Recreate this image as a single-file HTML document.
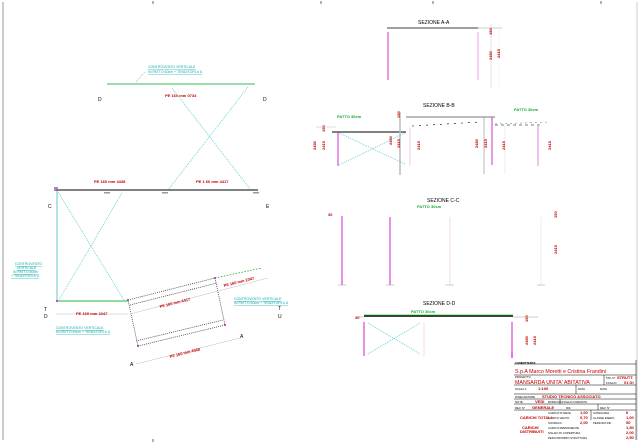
<!DOCTYPE html>
<html><head><meta charset="utf-8"><style>
html,body{margin:0;padding:0;background:#fff;}
svg{display:block;font-family:"Liberation Sans",sans-serif;}
.r{fill:#c00000;font-size:4px;font-weight:bold}
.c{fill:#11aaaa;font-size:3.5px;text-decoration:underline}
.g{fill:#11aa33;font-size:4px;font-weight:bold}
.k{fill:#000;font-size:5px}
.t{fill:#000;font-size:2.8px}
</style></head><body>
<svg width="640" height="444" viewBox="0 0 640 444" xmlns="http://www.w3.org/2000/svg">
<rect width="640" height="444" fill="#fff"/>
<line x1="3" y1="2" x2="3" y2="440" stroke="#aaa" stroke-width="1.2"/>
<line x1="637" y1="2" x2="637" y2="440" stroke="#ccc" stroke-width="1"/>
<g stroke="#000" stroke-width="0.6"><line x1="153" y1="1" x2="153" y2="4"/><line x1="321" y1="1" x2="321" y2="4"/><line x1="433" y1="1" x2="433" y2="4"/><line x1="601" y1="1" x2="601" y2="4"/><line x1="153" y1="439" x2="153" y2="442"/></g>

<!-- left plan -->
<line x1="107" y1="84" x2="255" y2="84" stroke="#77d488" stroke-width="1.5"/>
<text x="148" y="68" class="c">CONTROVENTO VERTICALE</text>
<text x="148" y="73" class="c">IN PATTO 60cm + TENDITORI A U</text>
<line x1="136" y1="82" x2="145" y2="72" stroke="#333" stroke-width="0.4" stroke-dasharray="1,1"/>
<text x="98" y="101" class="k" font-size="5">D</text><text x="263" y="101" class="k" font-size="5">D</text>
<text x="165" y="97" class="r">PE 160 mm 0734</text>
<g stroke="#55cccc" stroke-width="0.8" stroke-dasharray="1,1">
<line x1="172" y1="88" x2="250" y2="189"/><line x1="248" y1="87" x2="168" y2="190"/>
<line x1="58" y1="192" x2="124" y2="300"/><line x1="122" y1="193" x2="59" y2="300"/>
</g>
<line x1="56" y1="190" x2="258" y2="190" stroke="#000" stroke-width="1"/>
<text x="94" y="183" class="r">PE 160 mm 4438</text>
<text x="196" y="183" class="r">PE 1 60 mm 4417</text>
<text x="48" y="208" class="k">C</text><text x="266" y="208" class="k">E</text>
<g fill="#999"><rect x="104" y="192" width="6" height="1.5"/><rect x="162" y="192" width="6" height="1.5"/><rect x="253" y="192" width="6" height="1.5"/><rect x="54" y="187" width="4" height="4"/></g>
<line x1="57" y1="190" x2="57" y2="301" stroke="#66c8c8" stroke-width="1"/>
<line x1="57" y1="301" x2="128" y2="301" stroke="#22bb33" stroke-width="1"/>
<line x1="56" y1="314" x2="128" y2="314" stroke="#ddd" stroke-width="1"/>
<text x="76" y="315" class="r">PE 160 mm 2347</text>
<text x="15" y="265" class="c">CONTROVENTO</text><text x="17" y="269" class="c">VERTICALE</text>
<text x="13" y="273" class="c">IN PATTO 60cm</text><text x="11" y="277" class="c">+ TENDITORI A U</text>
<text x="56" y="329" class="c">CONTROVENTO VERTICALE</text>
<text x="56" y="333" class="c">IN PATTO 60cm + TENDITORI A U</text>
<text x="44" y="311" class="k">T</text><text x="44" y="318" class="k" font-size="4">D</text>
<!-- rotated rect -->
<g stroke="#444" stroke-width="0.8" stroke-dasharray="1,1" fill="none">
<polygon points="128,300 215,278 225,325 138,346"/>
<line x1="130" y1="305" x2="217" y2="283"/>
<line x1="136" y1="341" x2="223" y2="320"/>
</g>
<line x1="215" y1="278" x2="262" y2="268" stroke="#22aa33" stroke-width="0.8" stroke-dasharray="1.5,1.5"/>
<g stroke="#bbb" stroke-width="0.5"><line x1="130" y1="314" x2="268" y2="278"/><line x1="136" y1="364" x2="240" y2="338"/></g>
<text x="160" y="308" class="r" transform="rotate(-14 160 308)">PE 160 mm 4417</text>
<text x="224" y="287" class="r" transform="rotate(-14 224 287)">PE 160 mm 2347</text>
<text x="170" y="358" class="r" transform="rotate(-14 170 358)">PE 160 mm 4568</text>
<text x="234" y="300" class="c">CONTROVENTO VERTICALE</text>
<text x="234" y="304" class="c">IN PATTO 60cm + TENDITORI A U</text>
<text x="278" y="310" class="k">T</text><text x="278" y="318" class="k" font-size="4">U</text>
<text x="240" y="338" class="k" font-size="4">A</text><text x="130" y="366" class="k" font-size="4">A</text>
<g fill="#cc44cc"><rect x="56" y="189" width="2" height="2"/><rect x="56" y="300" width="2" height="2"/><rect x="127" y="299" width="2" height="2"/><rect x="214" y="277" width="2" height="2"/><rect x="224" y="324" width="2" height="2"/><rect x="137" y="345" width="2" height="2"/></g>

<!-- SEZIONE A-A -->
<text x="418" y="24" class="k">SEZIONE A-A</text>
<line x1="387" y1="28" x2="478" y2="28" stroke="#000" stroke-width="0.8"/>
<line x1="478" y1="28" x2="502" y2="28" stroke="#999" stroke-width="0.6"/>
<line x1="491" y1="24" x2="491" y2="88" stroke="#ccc" stroke-width="0.6"/>
<line x1="499" y1="24" x2="499" y2="88" stroke="#eee" stroke-width="0.6"/>
<line x1="388" y1="32" x2="388" y2="80" stroke="#cc33cc" stroke-width="1"/>
<line x1="478" y1="32" x2="478" y2="80" stroke="#e5a0e5" stroke-width="1"/>
<text x="492" y="35" class="r" transform="rotate(-90 492 35)">150</text>
<text x="492" y="60" class="r" transform="rotate(-90 492 60)">2450</text>
<text x="500" y="58" class="r" transform="rotate(-90 500 58)">2415</text>

<!-- SEZIONE B-B -->
<text x="423" y="107" class="k">SEZIONE B-B</text>
<text x="337" y="118" class="g">PATTO 30cm</text>
<text x="514" y="111" class="g">PATTO 30cm</text>
<line x1="316" y1="127" x2="336" y2="127" stroke="#bbb" stroke-width="0.5"/>
<line x1="332" y1="132" x2="406" y2="132" stroke="#000" stroke-width="0.9"/>
<line x1="400" y1="112" x2="400" y2="175" stroke="#bbb" stroke-width="1.5"/>
<line x1="406" y1="117" x2="495" y2="117" stroke="#777" stroke-width="1"/>
<line x1="484" y1="117" x2="484" y2="174" stroke="#888" stroke-width="0.6"/>
<line x1="412" y1="126" x2="480" y2="122" stroke="#000" stroke-width="0.6" stroke-dasharray="2,5"/>
<line x1="495" y1="125" x2="542" y2="125" stroke="#000" stroke-width="0.6" stroke-dasharray="3,3"/>
<line x1="495" y1="124" x2="550" y2="122" stroke="#22aa33" stroke-width="0.5" stroke-dasharray="2,3"/>
<line x1="338" y1="132" x2="338" y2="166" stroke="#cc33cc" stroke-width="1"/>
<line x1="410" y1="128" x2="410" y2="166" stroke="#f0c8f0" stroke-width="1"/>
<line x1="492" y1="117" x2="492" y2="165" stroke="#cc33cc" stroke-width="1"/>
<line x1="538" y1="126" x2="538" y2="166" stroke="#dd88dd" stroke-width="1"/>
<line x1="505" y1="125" x2="505" y2="174" stroke="#ddd" stroke-width="0.5"/>
<g stroke="#55cccc" stroke-width="0.8" stroke-dasharray="1,1"><line x1="339" y1="133" x2="405" y2="164"/><line x1="339" y1="165" x2="405" y2="133"/></g>
<g class="r">
<text x="325" y="132" transform="rotate(-90 325 132)">150</text>
<text x="316" y="150" transform="rotate(-90 316 150)">2450</text>
<text x="325" y="150" transform="rotate(-90 325 150)">2415</text>
<text x="392" y="145" transform="rotate(-90 392 145)">2450</text>
<text x="400" y="148" transform="rotate(-90 400 148)">2415</text>
<text x="420" y="150" transform="rotate(-90 420 150)">2415</text>
<text x="400" y="118" transform="rotate(-90 400 118)">150</text>
<text x="478" y="148" transform="rotate(-90 478 148)">2450</text>
<text x="487" y="148" transform="rotate(-90 487 148)">2415</text>
<text x="505" y="150" transform="rotate(-90 505 150)">2415</text>
<text x="551" y="150" transform="rotate(-90 551 150)">2415</text>
</g>

<!-- SEZIONE C-C -->
<text x="427" y="202" class="k">SEZIONE C-C</text>
<text x="417" y="208" class="g">PATTO 30cm</text>
<line x1="342" y1="216" x2="342" y2="285" stroke="#cc22cc" stroke-width="1"/>
<line x1="390" y1="217" x2="390" y2="285" stroke="#cc22cc" stroke-width="1"/>
<line x1="450" y1="217" x2="450" y2="285" stroke="#f0d8f0" stroke-width="1"/>
<line x1="541" y1="217" x2="541" y2="285" stroke="#eee" stroke-width="1"/>
<g stroke="#aaa" stroke-width="0.6"><line x1="338" y1="285" x2="346" y2="285"/><line x1="386" y1="285" x2="394" y2="285"/><line x1="445" y1="285" x2="454" y2="285"/><line x1="537" y1="285" x2="545" y2="285"/></g>
<text x="328" y="216" class="r">30</text>
<text x="557" y="218" class="r" transform="rotate(-90 557 218)">150</text>
<text x="557" y="254" class="r" transform="rotate(-90 557 254)">2415</text>

<!-- SEZIONE D-D -->
<text x="423" y="305" class="k">SEZIONE D-D</text>
<text x="411" y="313" class="g">PATTO 30cm</text>
<line x1="358" y1="317" x2="364" y2="317" stroke="#999" stroke-width="0.5"/>
<line x1="364" y1="316" x2="513" y2="316" stroke="#000" stroke-width="1.6"/>
<line x1="364" y1="315" x2="513" y2="315" stroke="#22bb33" stroke-width="0.8"/>
<line x1="513" y1="317" x2="538" y2="317" stroke="#999" stroke-width="0.6"/>
<line x1="364" y1="322" x2="364" y2="356" stroke="#cc22cc" stroke-width="1"/>
<line x1="424" y1="322" x2="424" y2="356" stroke="#f0d8f0" stroke-width="1"/>
<line x1="512" y1="322" x2="512" y2="356" stroke="#cc22cc" stroke-width="1"/>
<g stroke="#55cccc" stroke-width="0.8" stroke-dasharray="1,1"><line x1="368" y1="323" x2="420" y2="354"/><line x1="368" y1="354" x2="420" y2="323"/></g>
<text x="355" y="319" class="r">30</text>
<text x="528" y="322" class="r" transform="rotate(-90 528 322)">150</text>
<text x="528" y="345" class="r" transform="rotate(-90 528 345)">2450</text>
<text x="536" y="345" class="r" transform="rotate(-90 536 345)">2415</text>

<!-- title block -->
<g stroke="#000" stroke-width="0.5" fill="none">
<line x1="514" y1="364" x2="636" y2="364"/>
<line x1="514" y1="375" x2="636" y2="375"/>
<line x1="514" y1="385" x2="636" y2="385"/>
<line x1="514" y1="394" x2="636" y2="394"/>
<line x1="514" y1="399" x2="636" y2="399"/>
<line x1="514" y1="404" x2="636" y2="404"/>
<line x1="514" y1="410" x2="636" y2="410"/>
<line x1="604" y1="375" x2="604" y2="385"/>
<line x1="576" y1="385" x2="576" y2="394"/>
<line x1="560" y1="399" x2="560" y2="404"/>
<line x1="598" y1="404" x2="598" y2="410"/>
<line x1="591" y1="410" x2="591" y2="420"/>
<line x1="636" y1="360" x2="636" y2="440"/>
</g>
<line x1="512" y1="351" x2="512" y2="358" stroke="#cc22cc" stroke-width="1.2"/>
<text x="515" y="364" class="t" font-weight="bold">COMMITTENTE</text>
<text x="515" y="373" fill="#c00000" font-size="5.3">S.p.A Marco Moretti e Cristina Frandini</text>
<text x="515" y="378" class="t">PROGETTO</text>
<text x="515" y="384" fill="#c00000" font-size="5.3">MANSARDA UNITA' ABITATIVA</text>
<text x="606" y="379" class="t">TAV. N°</text><text x="617" y="379" class="r" font-size="2.8">STRUTT.</text>
<text x="606" y="384" class="t">FOGLIO</text><text x="624" y="384" class="r" font-size="2.8">01 DI</text>
<text x="515" y="390" class="t">SCALA 1:</text><text x="538" y="390" class="r" font-size="3">1:100</text>
<text x="578" y="390" class="t">DATA</text><text x="600" y="390" class="t">DATA</text>
<text x="515" y="398" class="t">DISEGNATORE</text><text x="542" y="398" class="r" font-size="3">STUDIO TECNICO ASSOCIATO</text>
<text x="515" y="403" class="t">NOTE</text><text x="535" y="403" class="r" font-size="3">VEDI</text><text x="548" y="403" class="t">MODIFICA</text><text x="562" y="403" class="t">FOGLIO FORMATO</text>
<text x="515" y="409" class="t">REV. N°</text><text x="532" y="409" class="r" font-size="3">GENERALE</text><text x="566" y="409" class="t">RIF.</text><text x="600" y="409" class="t">REV. N°</text>
<g class="t">
<text x="548" y="414">CARICO DI NEVE</text><text x="548" y="419">CARICO VENTO</text><text x="548" y="424">SOVRACC.</text><text x="548" y="429">CARICO PERMANENTE</text><text x="548" y="434">SOLAIO DI COPERTURA</text><text x="548" y="439">PESO PROPRIO STRUTTURA</text>
<text x="593" y="414">CATEGORIA</text><text x="593" y="419">CLASSE ESERC.</text><text x="593" y="424">PERIODO RIF.</text>
</g>
<g class="r" font-size="3">
<text x="520" y="419">CARICHI TOTALI</text><text x="522" y="429">CARICHI</text><text x="520" y="433">DISTRIBUITI</text>
<text x="580" y="414">1,00</text><text x="580" y="419">0,70</text><text x="580" y="424">2,00</text>
<text x="626" y="414">II</text><text x="626" y="419">1,00</text><text x="626" y="424">50</text>
<text x="626" y="429">1,50</text><text x="626" y="434">2,00</text><text x="626" y="439">2,50</text>
</g>
</svg>
</body></html>
